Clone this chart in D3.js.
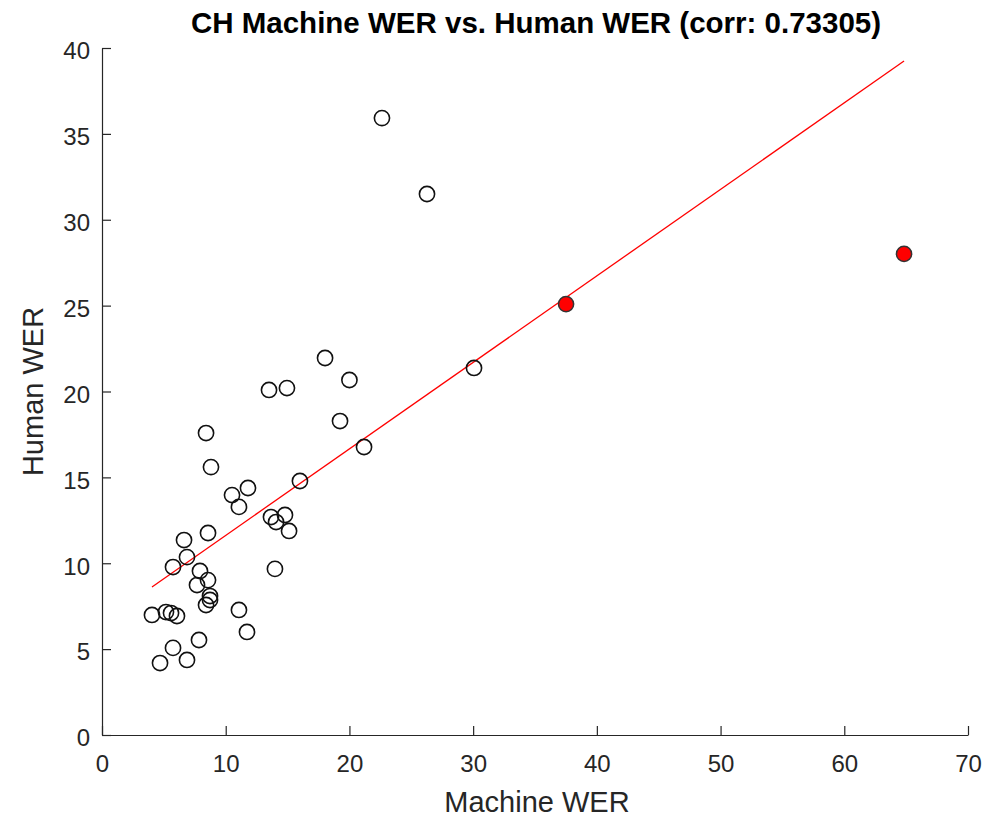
<!DOCTYPE html>
<html><head><meta charset="utf-8">
<script src="https://cdn.jsdelivr.net/npm/d3@7"></script>
<style>body{margin:0;background:#fff}svg{display:block}text{font-family:"Liberation Sans",Arial,sans-serif}</style>
</head><body>
<svg id="c" width="1002" height="819"></svg>
<script>
const machineWER = [22.63,26.27,30.07,18.03,20.0,13.5,14.95,19.24,21.18,8.41,8.81,16.0,10.51,11.8,11.07,13.66,14.79,14.07,15.12,8.57,6.63,6.87,5.74,13.98,7.92,8.57,7.68,8.73,8.73,8.41,4.04,5.17,5.58,6.06,11.07,11.72,7.84,5.74,4.69,6.87];
const humanWER   = [35.92,31.50,21.37,21.95,20.67,20.09,20.20,18.28,16.77,17.58,15.60,14.79,13.97,14.38,13.28,12.69,12.81,12.40,11.88,11.76,11.35,10.36,9.78,9.67,9.55,9.02,8.73,8.09,7.86,7.57,6.99,7.16,7.10,6.93,7.28,6.0,5.53,5.07,4.19,4.37];
const highlightMachine = [37.51,64.83];
const highlightHuman   = [25.09,28.01];
const fitX = [4.04,64.83];
const fitY = [8.62,39.24];
const xTicks = [0,10,20,30,40,50,60,70];
const yTicks = [0,5,10,15,20,25,30,35,40];
const titleText = "CH Machine WER vs. Human WER (corr: 0.73305)";

const svg = d3.select("#c");
const L=102,R=968,T=48,B=735;
const x = d3.scaleLinear().domain([0,70]).range([L,R]);
const y = d3.scaleLinear().domain([0,40]).range([B,T]);
const axCol="#262626";

const gx = svg.append("g").attr("transform",`translate(0,${B})`)
  .call(d3.axisBottom(x).tickValues(xTicks).tickSizeInner(-9).tickSizeOuter(0).tickPadding(20));
const gy = svg.append("g").attr("transform",`translate(${L},0)`)
  .call(d3.axisLeft(y).tickValues(yTicks).tickSizeInner(-9).tickSizeOuter(0).tickPadding(12));
[gx,gy].forEach(g=>{
  g.selectAll("path,line").attr("stroke",axCol).attr("stroke-width",1.2);
  g.selectAll("text").attr("fill",axCol).style("font-size","24px");
});
gy.selectAll("text").attr("dy","0.45em");

svg.append("line").attr("x1",x(fitX[0])).attr("y1",y(fitY[0])).attr("x2",x(fitX[1])).attr("y2",y(fitY[1]))
  .attr("stroke","#ff0000").attr("stroke-width",1.3);

const pts = machineWER.map((m,i)=>({m,h:humanWER[i]}));
svg.append("g").selectAll("circle").data(pts).join("circle")
  .attr("cx",d=>x(d.m)).attr("cy",d=>y(d.h)).attr("r",7.6)
  .attr("fill","none").attr("stroke","#111").attr("stroke-width",1.6);
const hp = highlightMachine.map((m,i)=>({m,h:highlightHuman[i]}));
svg.append("g").selectAll("circle").data(hp).join("circle")
  .attr("cx",d=>x(d.m)).attr("cy",d=>y(d.h)).attr("r",7.6)
  .attr("fill","#ff0000").attr("stroke","#333").attr("stroke-width",1.5);

svg.append("text").attr("x",536).attr("y",33).attr("text-anchor","middle")
  .style("font-size","29.5px").style("font-weight","bold").attr("fill","#000").text(titleText);
svg.append("text").attr("x",537).attr("y",812).attr("text-anchor","middle")
  .style("font-size","29px").attr("fill",axCol).text("Machine WER");
svg.append("text").attr("transform",`translate(43,${(T+B)/2}) rotate(-90)`).attr("text-anchor","middle")
  .style("font-size","29px").attr("fill",axCol).text("Human WER");
</script>
</body></html>
